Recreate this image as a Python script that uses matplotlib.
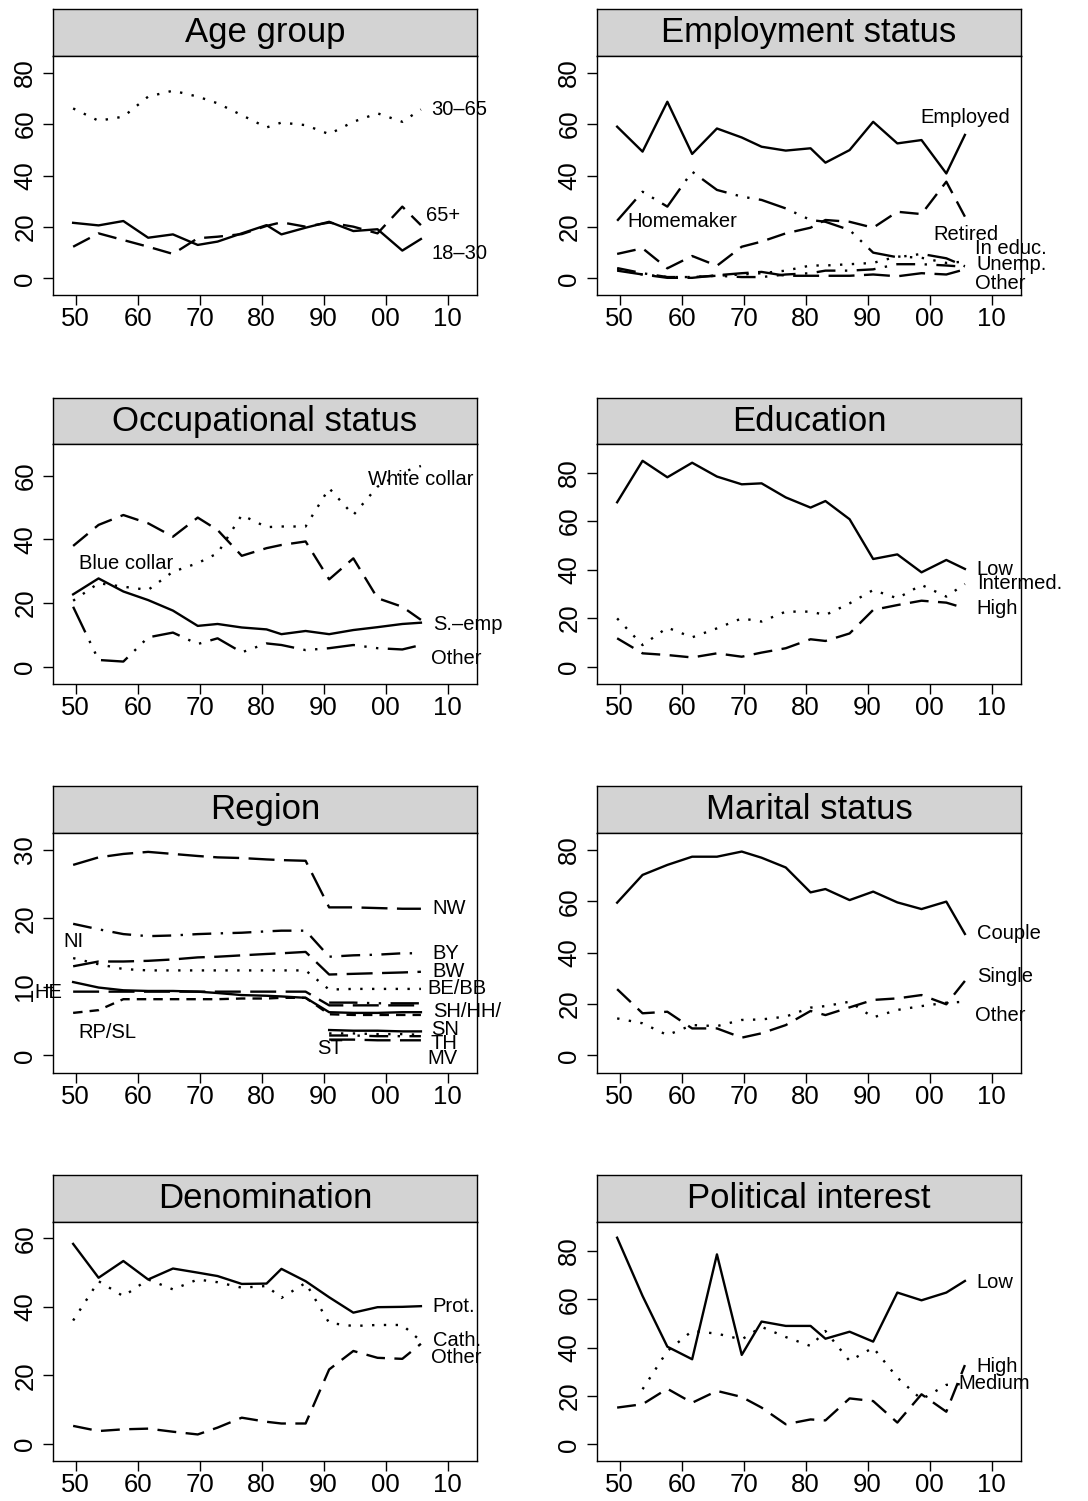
import numpy as np
import matplotlib
matplotlib.use("Agg")
import matplotlib.pyplot as plt

plt.rcParams['font.family'] = ['Liberation Sans', 'DejaVu Sans']

nan = np.nan

# ---------------- data ----------------
years = [1949.6, 1953.7, 1957.7, 1961.7, 1965.7, 1969.7, 1972.9, 1976.8,
         1980.8, 1983.2, 1987.1, 1990.9, 1994.8, 1998.7, 2002.7, 2005.7]
xtick_years = [1950, 1960, 1970, 1980, 1990, 2000, 2010]
xtick_labels = ["50", "60", "70", "80", "90", "00", "10"]

# Age group
age_18_30 = [21.6, 20.6, 22.3, 15.8, 17.1, 13.0, 14.3, 17.5, 20.7, 17.1, 19.7, 22.0, 18.4, 19.1, 10.8, 15.3]
age_30_65 = [66.1, 61.3, 62.9, 70.7, 73.0, 70.7, 68.1, 63.5, 58.7, 60.6, 59.6, 56.1, 60.9, 64.2, 60.9, 65.7]
age_65p = [12.3, 17.5, 14.9, 12.3, 9.5, 15.6, 16.2, 17.2, 20.4, 21.8, 20.1, 21.7, 20.1, 17.5, 27.9, 20.7]

# Employment status
emp_employed = [59.0, 49.3, 68.7, 48.4, 58.3, 54.8, 51.2, 49.7, 50.6, 45.0, 49.9, 60.9, 52.5, 53.8, 40.8, 55.8]
emp_homemaker = [22.4, 33.7, 27.9, 41.5, 34.4, 31.8, 30.5, 27.2, 22.7, 22.0, 18.8, 10.0, 8.2, 9.5, 7.8, 4.7]
emp_retired = [9.5, 11.7, 3.9, 8.7, 4.9, 12.3, 14.3, 17.5, 19.7, 22.7, 22.0, 19.7, 25.9, 25.0, 37.6, 24.0]
emp_ineduc = [3.5, 1.5, 0.5, 0.5, 1.0, 1.5, 2.0, 3.0, 5.0, 5.0, 5.5, 6.0, 8.5, 8.0, 6.0, 6.5]
emp_unemp = [4.0, 2.0, 0.5, 0.5, 1.0, 0.5, 0.5, 1.5, 2.0, 3.0, 3.0, 3.5, 5.5, 5.5, 5.0, 4.5]
emp_other = [3.0, 1.5, 0.2, 0.2, 1.2, 2.0, 2.5, 1.0, 1.0, 1.0, 1.0, 1.5, 0.8, 2.0, 1.5, 3.5]

# Occupational status
occ_selfemp = [22.7, 27.7, 23.6, 20.9, 17.6, 12.8, 13.4, 12.3, 11.7, 10.2, 11.2, 10.2, 11.5, 12.4, 13.4, 13.8]
occ_blue = [37.9, 44.5, 47.6, 45.0, 40.8, 46.8, 42.9, 34.8, 37.2, 38.2, 39.3, 27.4, 34.0, 21.5, 18.8, 14.7]
occ_white = [20.7, 26.2, 25.1, 24.1, 29.8, 32.5, 35.6, 47.6, 43.8, 44.0, 44.0, 56.0, 47.6, 56.5, 61.0, 63.0]
occ_other = [18.8, 2.1, 1.6, 9.2, 10.7, 7.1, 8.9, 4.5, 7.3, 6.8, 5.2, 5.8, 6.8, 5.8, 5.4, 6.8]

# Education
edu_low = [67.8, 84.9, 78.1, 84.1, 78.4, 75.2, 75.6, 69.8, 65.6, 68.3, 60.8, 44.4, 46.3, 38.9, 44.0, 40.3]
edu_inter = [19.9, 8.9, 16.1, 12.1, 15.8, 19.9, 18.6, 22.7, 22.7, 21.3, 26.1, 31.6, 28.2, 33.7, 28.9, 34.1]
edu_high = [11.7, 5.5, 4.8, 3.8, 5.5, 4.1, 5.8, 7.6, 11.3, 10.6, 13.7, 23.4, 25.4, 27.2, 26.4, 24.1]

# Region
reg_nw = [27.8, 28.9, 29.4, 29.7, 29.4, 29.1, 28.9, 28.8, 28.6, 28.5, 28.4, 21.6, 21.6, 21.5, 21.4, 21.4]
reg_by = [19.2, 18.4, 17.7, 17.4, 17.5, 17.7, 17.8, 17.9, 18.1, 18.2, 18.2, 14.4, 14.6, 14.7, 14.9, 14.9]
reg_bw = [13.0, 13.7, 13.7, 13.8, 14.0, 14.3, 14.4, 14.6, 14.8, 14.9, 15.1, 11.8, 11.9, 12.0, 12.1, 12.2]
reg_ni = [14.2, 13.3, 12.6, 12.4, 12.4, 12.4, 12.4, 12.4, 12.4, 12.4, 12.4, 9.6, 9.7, 9.7, 9.7, 9.7]
reg_shhhhb = [10.7, 9.9, 9.5, 9.4, 9.4, 9.3, 9.1, 8.8, 8.7, 8.6, 8.4, 6.3, 6.2, 6.2, 6.3, 6.3]
reg_he = [9.3, 9.3, 9.3, 9.3, 9.3, 9.3, 9.3, 9.3, 9.3, 9.3, 9.3, 7.3, 7.3, 7.3, 7.3, 7.3]
reg_rpsl = [6.2, 6.6, 8.2, 8.2, 8.2, 8.2, 8.2, 8.3, 8.3, 8.4, 8.4, 6.0, 5.9, 5.9, 5.9, 5.9]
reg_bebb = [nan] * 11 + [7.7, 7.7, 7.6, 7.6, 7.6]
reg_sn = [nan] * 11 + [3.7, 3.6, 3.6, 3.5, 3.5]
reg_th = [nan] * 11 + [3.2, 3.2, 3.1, 3.1, 3.0]
reg_st = [nan] * 11 + [2.9, 2.9, 2.8, 2.8, 2.8]
reg_mv = [nan] * 11 + [2.3, 2.3, 2.2, 2.2, 2.2]

# Marital status
mar_couple = [59.5, 70.3, 74.2, 77.4, 77.4, 79.4, 77.0, 73.2, 63.5, 64.8, 60.5, 63.8, 59.6, 57.0, 59.9, 47.3]
mar_single = [25.8, 16.4, 17.0, 10.5, 10.5, 6.9, 8.6, 11.8, 17.3, 15.7, 18.7, 21.6, 22.2, 23.5, 19.9, 29.0]
mar_other = [14.4, 12.5, 7.9, 11.8, 11.4, 13.8, 14.0, 15.1, 18.6, 19.2, 20.9, 14.8, 17.7, 19.2, 20.5, 20.9]

# Denomination
den_prot = [58.4, 48.5, 53.4, 48.0, 51.2, 50.0, 49.0, 46.7, 46.8, 51.1, 47.5, 42.8, 38.3, 39.9, 40.0, 40.2]
den_cath = [36.0, 47.5, 43.1, 48.0, 45.1, 48.0, 47.2, 45.6, 46.1, 42.6, 47.0, 35.3, 34.4, 34.7, 34.7, 30.0]
den_other = [5.2, 3.7, 4.2, 4.4, 3.5, 2.7, 4.7, 7.6, 6.4, 5.9, 5.9, 21.7, 27.1, 25.1, 24.8, 29.2]

# Political interest
pol_low = [85.5, 61.4, 40.4, 35.2, 78.6, 37.0, 50.8, 49.0, 49.0, 43.7, 46.6, 42.5, 62.8, 59.6, 62.8, 67.6]
pol_medium = [nan, 22.8, 38.6, 46.9, 45.8, 43.4, 48.6, 44.4, 40.7, 46.9, 34.5, 40.0, 27.6, 18.6, 24.6, 25.0]
pol_high = [15.2, 16.6, 23.0, 17.2, 22.1, 19.6, 15.2, 8.3, 10.3, 9.9, 19.0, 17.9, 9.0, 20.7, 13.5, 32.8]

# ---------------- styles ----------------
SOLID = '-'
DOT = (0, (1, 4))
DASH = (0, (8, 4))
LONGDASH = (0, (11, 4))
SHORTDASH = (0, (4, 3))
DOTDASH = (0, (8, 4, 1, 4))
TWODASH = (0, (12, 4, 1, 4, 1, 4))

panels = [
    dict(title="Age group", ylim=(-6.48, 86.5), yticks=[0, 20, 40, 60, 80],
         series=[(age_18_30, SOLID), (age_30_65, DOT), (age_65p, DASH)],
         labels=[("30–65", 2007.4, 65.7), ("65+", 2006.6, 24.6), ("18–30", 2007.4, 9.7)]),
    dict(title="Employment status", ylim=(-6.48, 86.5), yticks=[0, 20, 40, 60, 80],
         series=[(emp_employed, SOLID), (emp_homemaker, TWODASH), (emp_retired, DASH),
                 (emp_ineduc, DOT), (emp_unemp, DOTDASH), (emp_other, LONGDASH)],
         labels=[("Employed", 1998.5, 62.6), ("Homemaker", 1951.3, 22.0), ("Retired", 2000.6, 16.9),
                 ("In educ.", 2007.4, 11.7), ("Unemp.", 2007.6, 5.2), ("Other", 2007.3, -1.9)]),
    dict(title="Occupational status", ylim=(-5.44, 69.8), yticks=[0, 20, 40, 60],
         series=[(occ_selfemp, SOLID), (occ_blue, DASH), (occ_white, DOT), (occ_other, TWODASH)],
         labels=[("White collar", 1997.2, 58.6), ("Blue collar", 1950.5, 32.3),
                 ("S.–emp", 2007.6, 13.1), ("Other", 2007.3, 2.6)]),
    dict(title="Education", ylim=(-7.15, 91.7), yticks=[0, 20, 40, 60, 80],
         series=[(edu_low, SOLID), (edu_inter, DOT), (edu_high, DASH)],
         labels=[("Low", 2007.6, 39.9), ("Intermed.", 2007.6, 34.4), ("High", 2007.6, 23.8)]),
    dict(title="Region", ylim=(-2.53, 32.5), yticks=[0, 10, 20, 30],
         series=[(reg_nw, LONGDASH), (reg_by, DOTDASH), (reg_bw, LONGDASH), (reg_ni, DOT),
                 (reg_shhhhb, SOLID), (reg_he, LONGDASH), (reg_rpsl, SHORTDASH),
                 (reg_bebb, TWODASH), (reg_sn, SOLID), (reg_th, DOT), (reg_st, DOTDASH),
                 (reg_mv, LONGDASH)],
         labels=[("NW", 2007.6, 21.5), ("BY", 2007.6, 14.9), ("BW", 2007.6, 12.2),
                 ("BE/BB", 2006.8, 9.8), ("SH/HH/", 2007.6, 6.4), ("SN", 2007.4, 3.8),
                 ("TH", 2007.2, 1.75), ("MV", 2006.8, -0.45), ("NI", 1948.0, 16.6),
                 ("HE", 1943.4, 9.2), ("RP/SL", 1950.5, 3.4), ("ST", 1988.9, 1.0)]),
    dict(title="Marital status", ylim=(-6.75, 86.75), yticks=[0, 20, 40, 60, 80],
         series=[(mar_couple, SOLID), (mar_single, DASH), (mar_other, DOT)],
         labels=[("Couple", 2007.6, 47.3), ("Single", 2007.6, 30.9), ("Other", 2007.3, 15.7)]),
    dict(title="Denomination", ylim=(-5.06, 64.8), yticks=[0, 20, 40, 60],
         series=[(den_prot, SOLID), (den_cath, DOT), (den_other, DASH)],
         labels=[("Prot.", 2007.6, 40.2), ("Cath.", 2007.6, 30.3), ("Other", 2007.3, 25.1)]),
    dict(title="Political interest", ylim=(-6.9, 92.0), yticks=[0, 20, 40, 60, 80],
         series=[(pol_low, SOLID), (pol_medium, DOT), (pol_high, DASH)],
         labels=[("Low", 2007.6, 66.9), ("High", 2007.6, 32.4), ("Medium", 2004.6, 25.1)]),
]

# ---------------- layout (pixels) ----------------
W, H = 1088, 1501
fig = plt.figure(figsize=(W / 100, H / 100), dpi=100)
fig.patch.set_facecolor('white')

cols = [(53.3, 476.7), (597.3, 1020.7)]
rows = [(9.3, 56.0, 295.0), (398.3, 444.3, 684.0), (786.0, 832.7, 1072.7), (1175.3, 1222.0, 1461.0)]


def add_px_axes(l, t, r, b):
    return fig.add_axes([l / W, 1 - b / H, (r - l) / W, (b - t) / H])


for i, p in enumerate(panels):
    r, c = divmod(i, 2)
    l, rr = cols[c]
    st, bt, bb = rows[r]

    # strip
    sax = add_px_axes(l, st, rr, bt)
    sax.set_facecolor('#D3D3D3')
    sax.set_xticks([])
    sax.set_yticks([])
    for sp in sax.spines.values():
        sp.set_linewidth(1.0)
    sax.text(0.5, 0.29, p['title'], ha='center', va='baseline', fontsize=25,
             transform=sax.transAxes)

    # plot
    ax = add_px_axes(l, bt, rr, bb)
    for vals, ls in p['series']:
        ax.plot(years, vals, color='black', linestyle=ls, linewidth=1.7)
    for txt, x, y in p['labels']:
        ax.text(x, y, txt, ha='left', va='center', fontsize=14.5, clip_on=False)
    ax.set_xlim(1946.4, 2014.7)
    ax.set_ylim(*p['ylim'])
    ax.set_xticks(xtick_years)
    ax.set_xticklabels(xtick_labels)
    ax.set_yticks(p['yticks'])
    ax.set_yticklabels([str(v) for v in p['yticks']])
    ax.tick_params(axis='both', direction='out', length=7, width=1.0, labelsize=18.5,
                   color='black')
    ax.tick_params(axis='x', pad=1.8)
    ax.tick_params(axis='y', pad=4.5)
    plt.setp(ax.get_yticklabels(), rotation=90, va='center')
    for sp in ax.spines.values():
        sp.set_linewidth(1.0)

fig.savefig("out.png", dpi=100, facecolor='white')
